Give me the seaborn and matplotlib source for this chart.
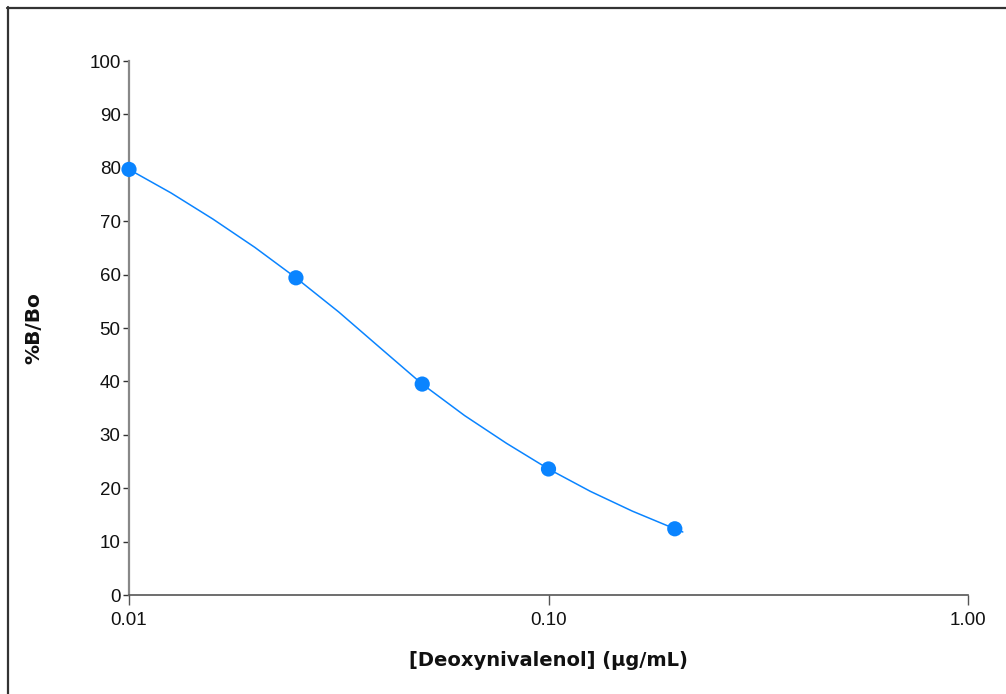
import matplotlib
matplotlib.use("Agg")
import matplotlib.pyplot as plt
from matplotlib.lines import Line2D
from matplotlib.ticker import FixedLocator, NullLocator, FixedFormatter
import seaborn as sns
import pandas as pd

# Standard points
conc = [0.01, 0.025, 0.05, 0.10, 0.20]
bbo = [79.7, 59.4, 39.5, 23.6, 12.4]

# Fitted curve
curve_conc = [0.01, 0.01259, 0.01585, 0.01995, 0.025, 0.03162, 0.03981, 0.05,
              0.0631, 0.07943, 0.10, 0.1259, 0.1585, 0.20, 0.209]
curve_bbo = [79.7, 75.3, 70.4, 65.1, 59.4, 53.0, 46.2, 39.5,
             33.6, 28.4, 23.6, 19.4, 15.7, 12.4, 11.8]

xticks = [0.01, 0.1, 1.0]
xticklabels = ["0.01", "0.10", "1.00"]
yticks = [0, 10, 20, 30, 40, 50, 60, 70, 80, 90, 100]

sns.set_theme(style="white")
plt.rcParams['font.family'] = ['Liberation Sans', 'DejaVu Sans']

fig = plt.figure(figsize=(10.06, 6.94), dpi=100)
ax = fig.add_axes([129/1006, 1 - 595/694, (968 - 129)/1006, (595 - 61)/694])

blue = "#0A84FF"
df_curve = pd.DataFrame({"x": curve_conc, "y": curve_bbo})
df_pts = pd.DataFrame({"x": conc, "y": bbo})
sns.lineplot(data=df_curve, x="x", y="y", ax=ax, color=blue, linewidth=1.1, sort=True)
sns.scatterplot(data=df_pts, x="x", y="y", ax=ax, color=blue, s=120, edgecolor="none", zorder=5, clip_on=False)

ax.set_xscale("log")
ax.set_xlim(0.01, 1.0)
ax.set_ylim(0, 100)
ax.xaxis.set_major_locator(FixedLocator(xticks))
ax.xaxis.set_major_formatter(FixedFormatter(xticklabels))
ax.xaxis.set_minor_locator(NullLocator())
ax.set_yticks(yticks)
ax.set_yticklabels([str(v) for v in yticks])

for s in ["top", "right"]:
    ax.spines[s].set_visible(False)
ax.spines["left"].set_color("#888888")
ax.spines["left"].set_linewidth(1.6)
ax.spines["bottom"].set_color("#555555")
ax.spines["bottom"].set_linewidth(1.2)

ax.tick_params(axis="y", direction="out", length=4, width=1, color="#333333",
               labelsize=13.5, pad=2, left=True, labelcolor="#111111")
ax.tick_params(axis="x", direction="out", length=7, width=1, color="#555555",
               labelsize=13.5, pad=5, bottom=True, labelcolor="#111111")

lab_font = ['DejaVu Sans']
ax.set_xlabel("[Deoxynivalenol] (µg/mL)", fontsize=14, fontweight="bold", labelpad=16,
              family=lab_font, color="#111111")
ax.set_ylabel("%B/Bo", fontsize=14.5, fontweight="bold", labelpad=33,
              family=lab_font, color="#111111")

# Outer frame (top and left edges)
fig.add_artist(Line2D([7/1006, 1.0], [1 - 7.5/694, 1 - 7.5/694], transform=fig.transFigure,
                      color="#333333", linewidth=1.6))
fig.add_artist(Line2D([7.5/1006, 7.5/1006], [0.0, 1 - 7/694], transform=fig.transFigure,
                      color="#333333", linewidth=1.6))

fig.savefig("out.png", dpi=100, facecolor="white")
